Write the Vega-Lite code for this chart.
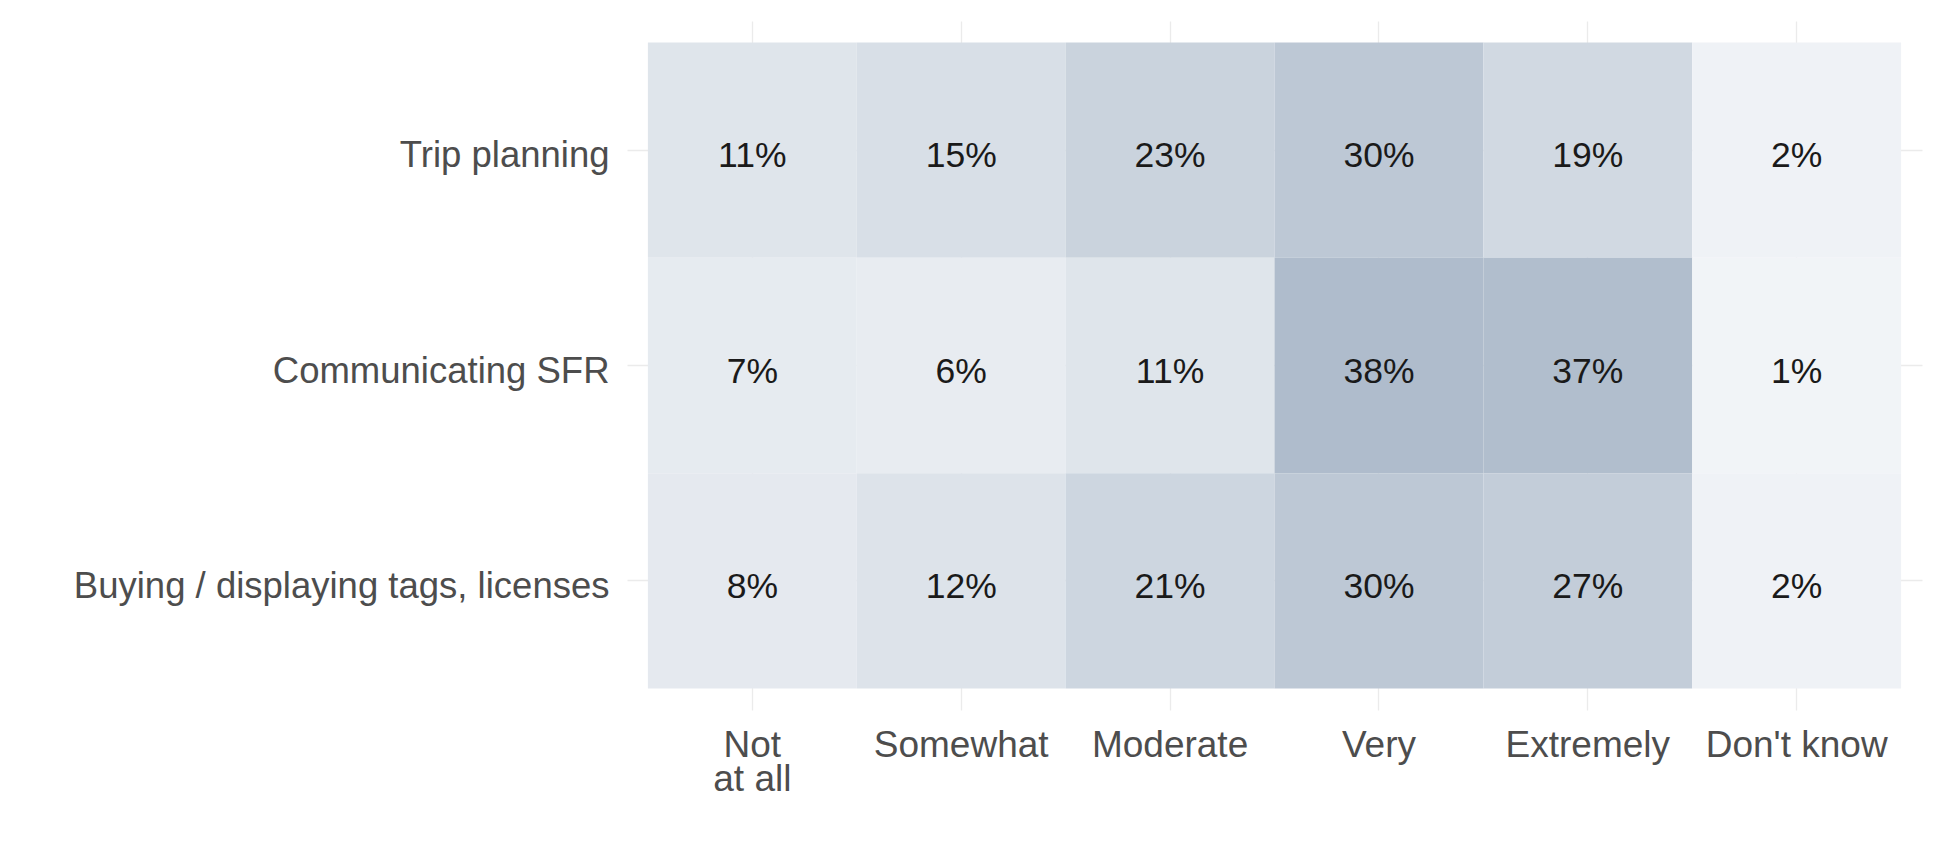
{
  "$schema": "https://vega.github.io/schema/vega-lite/v6.json",
  "width": 1295,
  "height": 689,
  "autosize": {"type": "none"},
  "padding": {"left": 627, "top": 21, "right": 14, "bottom": 139},
  "background": "white",
  "config": {"view": {"stroke": null}, "font": "Liberation Sans"},
  "data": {
    "values": [
      {"task": "Trip planning", "level": "Not at all", "pct": 0.11},
      {"task": "Trip planning", "level": "Somewhat", "pct": 0.15},
      {"task": "Trip planning", "level": "Moderate", "pct": 0.23},
      {"task": "Trip planning", "level": "Very", "pct": 0.30},
      {"task": "Trip planning", "level": "Extremely", "pct": 0.19},
      {"task": "Trip planning", "level": "Don't know", "pct": 0.02},
      {"task": "Communicating SFR", "level": "Not at all", "pct": 0.07},
      {"task": "Communicating SFR", "level": "Somewhat", "pct": 0.06},
      {"task": "Communicating SFR", "level": "Moderate", "pct": 0.11},
      {"task": "Communicating SFR", "level": "Very", "pct": 0.38},
      {"task": "Communicating SFR", "level": "Extremely", "pct": 0.37},
      {"task": "Communicating SFR", "level": "Don't know", "pct": 0.01},
      {"task": "Buying / displaying tags, licenses", "level": "Not at all", "pct": 0.08},
      {"task": "Buying / displaying tags, licenses", "level": "Somewhat", "pct": 0.12},
      {"task": "Buying / displaying tags, licenses", "level": "Moderate", "pct": 0.21},
      {"task": "Buying / displaying tags, licenses", "level": "Very", "pct": 0.30},
      {"task": "Buying / displaying tags, licenses", "level": "Extremely", "pct": 0.27},
      {"task": "Buying / displaying tags, licenses", "level": "Don't know", "pct": 0.02}
    ]
  },
  "encoding": {
    "x": {
      "field": "level",
      "type": "nominal",
      "sort": ["Not at all", "Somewhat", "Moderate", "Very", "Extremely", "Don't know"],
      "scale": {"paddingInner": 0, "paddingOuter": 0.1},
      "axis": {
        "orient": "bottom",
        "title": null,
        "domain": false,
        "ticks": false,
        "grid": true,
        "zindex": 0,
        "bandPosition": 0.5,
        "gridColor": "#ebebeb",
        "gridWidth": 1.3,
        "labelFontSize": 37,
        "labelColor": "#4d4d4d",
        "labelPadding": 17,
        "labelAngle": 0,
        "labelBaseline": "top",
        "labelLineHeight": 34,
        "labelOverlap": false,
        "labelLimit": 1000,
        "labelExpr": "datum.value == 'Not at all' ? ['Not', 'at all'] : datum.value"
      }
    },
    "y": {
      "field": "task",
      "type": "nominal",
      "sort": ["Trip planning", "Communicating SFR", "Buying / displaying tags, licenses"],
      "scale": {"paddingInner": 0, "paddingOuter": 0.1},
      "axis": {
        "title": null,
        "domain": false,
        "ticks": false,
        "grid": true,
        "zindex": 0,
        "bandPosition": 0.5,
        "gridColor": "#ebebeb",
        "gridWidth": 1.3,
        "labelFontSize": 36.5,
        "labelColor": "#4d4d4d",
        "labelPadding": 18,
        "labelOffset": 6,
        "labelOverlap": false,
        "labelLimit": 1000
      }
    }
  },
  "layer": [
    {
      "mark": {"type": "rect"},
      "encoding": {
        "color": {
          "field": "pct",
          "type": "quantitative",
          "scale": {"domain": [0.01, 0.38], "range": ["#f1f4f7", "#afbccc"], "interpolate": "rgb"},
          "legend": null
        }
      }
    },
    {
      "mark": {"type": "text", "fontSize": 35.5, "color": "#1a1a1a", "baseline": "middle", "dy": 6},
      "encoding": {
        "text": {"field": "pct", "type": "quantitative", "format": ".0%"}
      }
    }
  ]
}
